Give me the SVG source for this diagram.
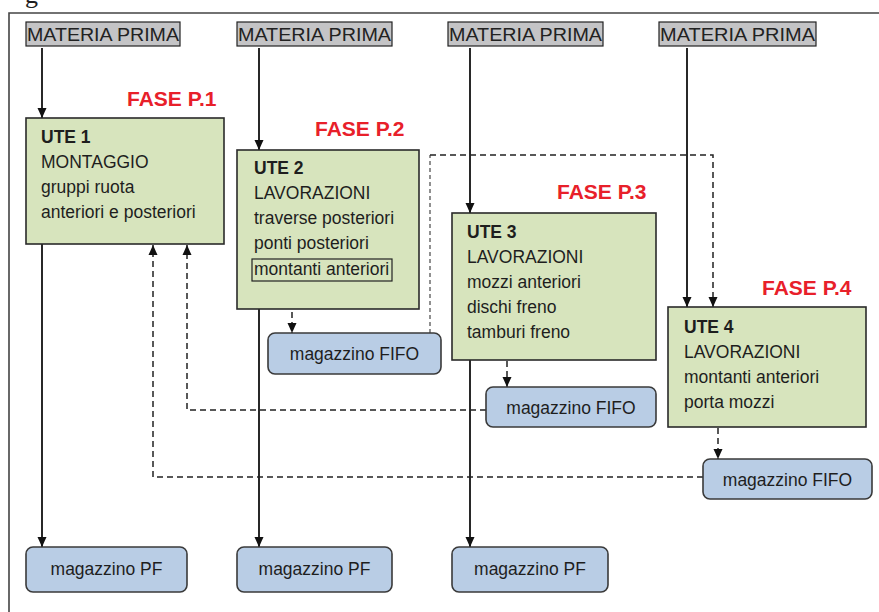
<svg xmlns="http://www.w3.org/2000/svg" width="879" height="612" viewBox="0 0 879 612">
<defs>
<marker id="ah" viewBox="0 0 10 10" refX="10" refY="5" markerWidth="10" markerHeight="10" markerUnits="userSpaceOnUse" orient="auto">
<path d="M0,0.5 L10,5 L0,9.5 z" fill="#111"/>
</marker>
</defs>
<style>
text{font-family:"Liberation Sans",Arial,sans-serif;fill:#1e1e1e;font-size:17.5px}
.mp rect{fill:#c4c4c6;stroke:#222;stroke-width:1.2}
.mp text{font-size:19px;fill:#222}
.ute rect{fill:#d7e4bd;stroke:#2a2a2a;stroke-width:1.6}
.ute .h{font-weight:bold}
.mag rect{fill:#b9cde5;stroke:#3a3a3a;stroke-width:1.6}
.mag text{text-anchor:middle}
.fase{font-weight:bold;font-size:21px;fill:#e8202a}
.solid{fill:none;stroke:#111;stroke-width:1.8}
.dash{fill:none;stroke:#222;stroke-width:1.5;stroke-dasharray:6 4}
.dot{fill:none;stroke:#555;stroke-width:1.3;stroke-dasharray:4 3}
</style>
<rect width="879" height="612" fill="#fff"/>
<text x="25" y="3" style="font-family:'Liberation Serif',serif;font-size:26px">g</text>
<path d="M9,612 V13 H879" fill="none" stroke="#444" stroke-width="1.6"/>

<g id="mp1" class="mp"><rect x="26" y="22" width="154" height="24"/><text x="27" y="41" textLength="152" lengthAdjust="spacingAndGlyphs">MATERIA PRIMA</text></g>
<g id="mp2" class="mp"><rect x="237" y="22" width="155" height="24"/><text x="238" y="41" textLength="153" lengthAdjust="spacingAndGlyphs">MATERIA PRIMA</text></g>
<g id="mp3" class="mp"><rect x="448" y="22" width="155" height="24"/><text x="449" y="41" textLength="153" lengthAdjust="spacingAndGlyphs">MATERIA PRIMA</text></g>
<g id="mp4" class="mp"><rect x="659" y="22" width="157" height="24"/><text x="660" y="41" textLength="155" lengthAdjust="spacingAndGlyphs">MATERIA PRIMA</text></g>

<text class="fase" x="127" y="106">FASE P.1</text>
<text class="fase" x="315" y="136">FASE P.2</text>
<text class="fase" x="557" y="199">FASE P.3</text>
<text class="fase" x="762" y="295">FASE P.4</text>

<g id="connectors">
<path class="solid" d="M42,48 V118" marker-end="url(#ah)"/>
<path class="solid" d="M259,48 V150" marker-end="url(#ah)"/>
<path class="solid" d="M470,48 V213" marker-end="url(#ah)"/>
<path class="solid" d="M687,48 V307" marker-end="url(#ah)"/>
<path class="solid" d="M42,244 V547" marker-end="url(#ah)"/>
<path class="solid" d="M259,309 V547" marker-end="url(#ah)"/>
<path class="solid" d="M470,360 V547" marker-end="url(#ah)"/>
<path class="dash" d="M292,282 V333" marker-end="url(#ah)"/>
<path class="dash" d="M507,361 V387" marker-end="url(#ah)"/>
<path class="dash" d="M718,428 V459" marker-end="url(#ah)"/>
<path class="dot" d="M430,333 V155"/>
<path class="dash" d="M430,155 H713 V307" marker-end="url(#ah)"/>
<path class="dash" d="M486,410 H187 V245" marker-end="url(#ah)"/>
<path class="dash" d="M703,477 H153 V245" marker-end="url(#ah)"/>
</g>

<g id="ute1" class="ute"><rect x="26" y="118" width="198" height="126"/>
<text class="h" x="41" y="143">UTE 1</text>
<text x="41" y="168">MONTAGGIO</text>
<text x="41" y="193">gruppi ruota</text>
<text x="41" y="218">anteriori e posteriori</text></g>

<g id="ute2" class="ute"><rect x="237" y="150" width="182" height="159"/>
<text class="h" x="254" y="174">UTE 2</text>
<text x="254" y="199">LAVORAZIONI</text>
<text x="254" y="224">traverse posteriori</text>
<text x="254" y="249">ponti posteriori</text>
<rect x="252" y="259" width="140" height="22" style="fill:none;stroke:#222;stroke-width:1.2"/>
<text x="254" y="275">montanti anteriori</text></g>

<g id="ute3" class="ute"><rect x="452" y="213" width="204" height="147"/>
<text class="h" x="467" y="238">UTE 3</text>
<text x="467" y="263">LAVORAZIONI</text>
<text x="467" y="288">mozzi anteriori</text>
<text x="467" y="313">dischi freno</text>
<text x="467" y="338">tamburi freno</text></g>

<g id="ute4" class="ute"><rect x="668" y="307" width="198" height="120"/>
<text class="h" x="684" y="333">UTE 4</text>
<text x="684" y="358">LAVORAZIONI</text>
<text x="684" y="383">montanti anteriori</text>
<text x="684" y="408">porta mozzi</text></g>

<g id="fifo1" class="mag"><rect x="268" y="333" width="173" height="41" rx="7"/><text x="354.5" y="360">magazzino FIFO</text></g>
<g id="fifo2" class="mag"><rect x="486" y="387" width="170" height="40" rx="7"/><text x="571" y="414">magazzino FIFO</text></g>
<g id="fifo3" class="mag"><rect x="703" y="459" width="169" height="40" rx="7"/><text x="787.5" y="486">magazzino FIFO</text></g>

<g id="pf1" class="mag"><rect x="26" y="547" width="161" height="45" rx="7"/><text x="106.5" y="575">magazzino PF</text></g>
<g id="pf2" class="mag"><rect x="237" y="547" width="155" height="45" rx="7"/><text x="314.5" y="575">magazzino PF</text></g>
<g id="pf3" class="mag"><rect x="452" y="547" width="156" height="45" rx="7"/><text x="530" y="575">magazzino PF</text></g>
</svg>
